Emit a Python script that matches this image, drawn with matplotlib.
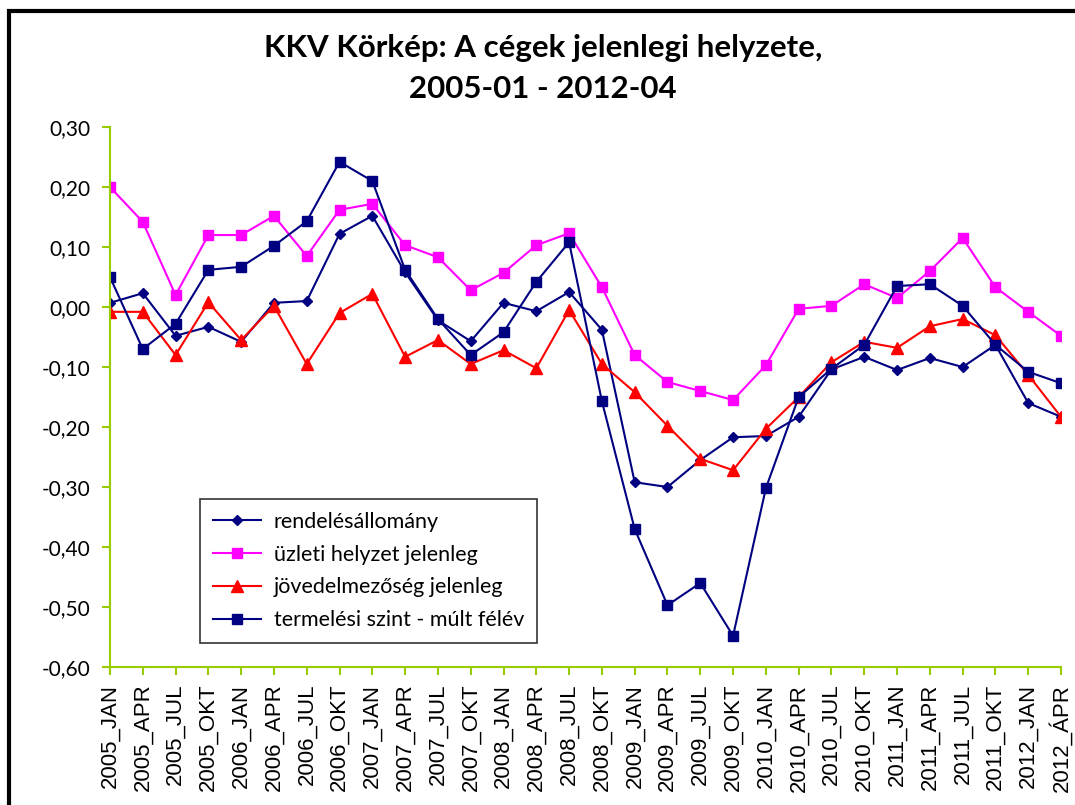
import numpy as np
import matplotlib
matplotlib.use("Agg")
import matplotlib.pyplot as plt
from matplotlib.patches import Rectangle

# negyedéves időszakok
periods = ["2005_JAN", "2005_APR", "2005_JUL", "2005_OKT",
           "2006_JAN", "2006_APR", "2006_JUL", "2006_OKT",
           "2007_JAN", "2007_APR", "2007_JUL", "2007_OKT",
           "2008_JAN", "2008_APR", "2008_JUL", "2008_OKT",
           "2009_JAN", "2009_APR", "2009_JUL", "2009_OKT",
           "2010_JAN", "2010_APR", "2010_JUL", "2010_OKT",
           "2011_JAN", "2011_APR", "2011_JUL", "2011_OKT",
           "2012_JAN", "2012_ÁPR"]

rendeles = [0.007, 0.023, -0.048, -0.033, -0.058, 0.007, 0.010, 0.122,
            0.152, 0.058, -0.022, -0.057, 0.007, -0.007, 0.025, -0.038,
            -0.292, -0.300, -0.255, -0.217, -0.215, -0.183, -0.104, -0.083,
            -0.105, -0.085, -0.100, -0.063, -0.160, -0.183]

uzleti = [0.200, 0.142, 0.020, 0.120, 0.120, 0.152, 0.085, 0.162,
          0.172, 0.103, 0.083, 0.028, 0.057, 0.103, 0.123, 0.033,
          -0.080, -0.125, -0.140, -0.155, -0.097, -0.003, 0.002, 0.038,
          0.015, 0.060, 0.115, 0.033, -0.008, -0.048]

jovedelem = [-0.008, -0.008, -0.080, 0.008, -0.055, 0.002, -0.095, -0.010,
             0.022, -0.083, -0.055, -0.095, -0.072, -0.102, -0.005, -0.095,
             -0.142, -0.198, -0.253, -0.272, -0.203, -0.150, -0.092, -0.058,
             -0.068, -0.032, -0.020, -0.047, -0.113, -0.183]

termeles = [0.050, -0.070, -0.028, 0.062, 0.067, 0.102, 0.143, 0.242,
            0.210, 0.062, -0.020, -0.080, -0.042, 0.042, 0.108, -0.157,
            -0.370, -0.497, -0.460, -0.548, -0.302, -0.150, -0.103, -0.063,
            0.035, 0.038, 0.002, -0.063, -0.108, -0.127]

yticks = [-0.6, -0.5, -0.4, -0.3, -0.2, -0.1, 0.0, 0.1, 0.2, 0.3]

x = np.arange(len(periods))
axis_green = "#99CC00"

fig = plt.figure(figsize=(10.75, 8.05), dpi=100)
ax = fig.add_axes([0.1023, 0.1714, 0.987 - 0.1023, 0.8422 - 0.1714])

ax.plot(x, rendeles, color="#000080", marker="D", markersize=5.5, lw=1.5,
        label="rendelésállomány")
ax.plot(x, uzleti, color="#FF00FF", marker="s", markersize=7, lw=1.5,
        label="üzleti helyzet jelenleg")
ax.plot(x, jovedelem, color="#FF0000", marker="^", markersize=8, lw=1.5,
        label="jövedelmezőség jelenleg")
ax.plot(x, termeles, color="#000080", marker="s", markersize=7, lw=1.5,
        label="termelési szint - múlt félév")

ax.set_xlim(0, len(periods) - 1)
ax.set_ylim(-0.6, 0.3)
ax.set_yticks(yticks)
ax.set_yticklabels([f"{v:.2f}".replace(".", ",") for v in yticks],
                   fontsize=15, fontfamily="Lato")
ax.set_xticks(x)
ax.set_xticklabels(periods, rotation=90, fontsize=16, fontfamily="Liberation Sans")

for s in ["top", "right"]:
    ax.spines[s].set_visible(False)
for s in ["left", "bottom"]:
    ax.spines[s].set_color(axis_green)
    ax.spines[s].set_linewidth(1.5)
ax.tick_params(axis="both", direction="out", color=axis_green, length=6, width=1.5)
ax.tick_params(axis="y", pad=8)
ax.tick_params(axis="x", pad=6)

leg = ax.legend(loc="lower left", bbox_to_anchor=(0.095, 0.044), borderaxespad=0,
                prop={"family": "Lato", "size": 15.5}, frameon=True, fancybox=False,
                handlelength=2.2, handletextpad=0.6, labelspacing=0.6, borderpad=0.6)
leg.get_frame().set_edgecolor("black")
leg.get_frame().set_linewidth(1.2)

fig.text(0.505, 0.940, "KKV Körkép: A cégek jelenlegi helyzete,", ha="center", va="center",
         fontsize=22.5, fontweight="bold", fontfamily="Lato")
fig.text(0.505, 0.889, "2005-01 - 2012-04", ha="center", va="center",
         fontsize=22.5, fontweight="bold", fontfamily="Lato")

# külső keret (csak bal és felső szél látszik)
fig.patches.append(Rectangle((9 / 1075, -0.1), 1.2, 1.1 - 11 / 805,
                             transform=fig.transFigure, fill=False,
                             edgecolor="black", linewidth=3))

fig.savefig("out.png", dpi=100)
